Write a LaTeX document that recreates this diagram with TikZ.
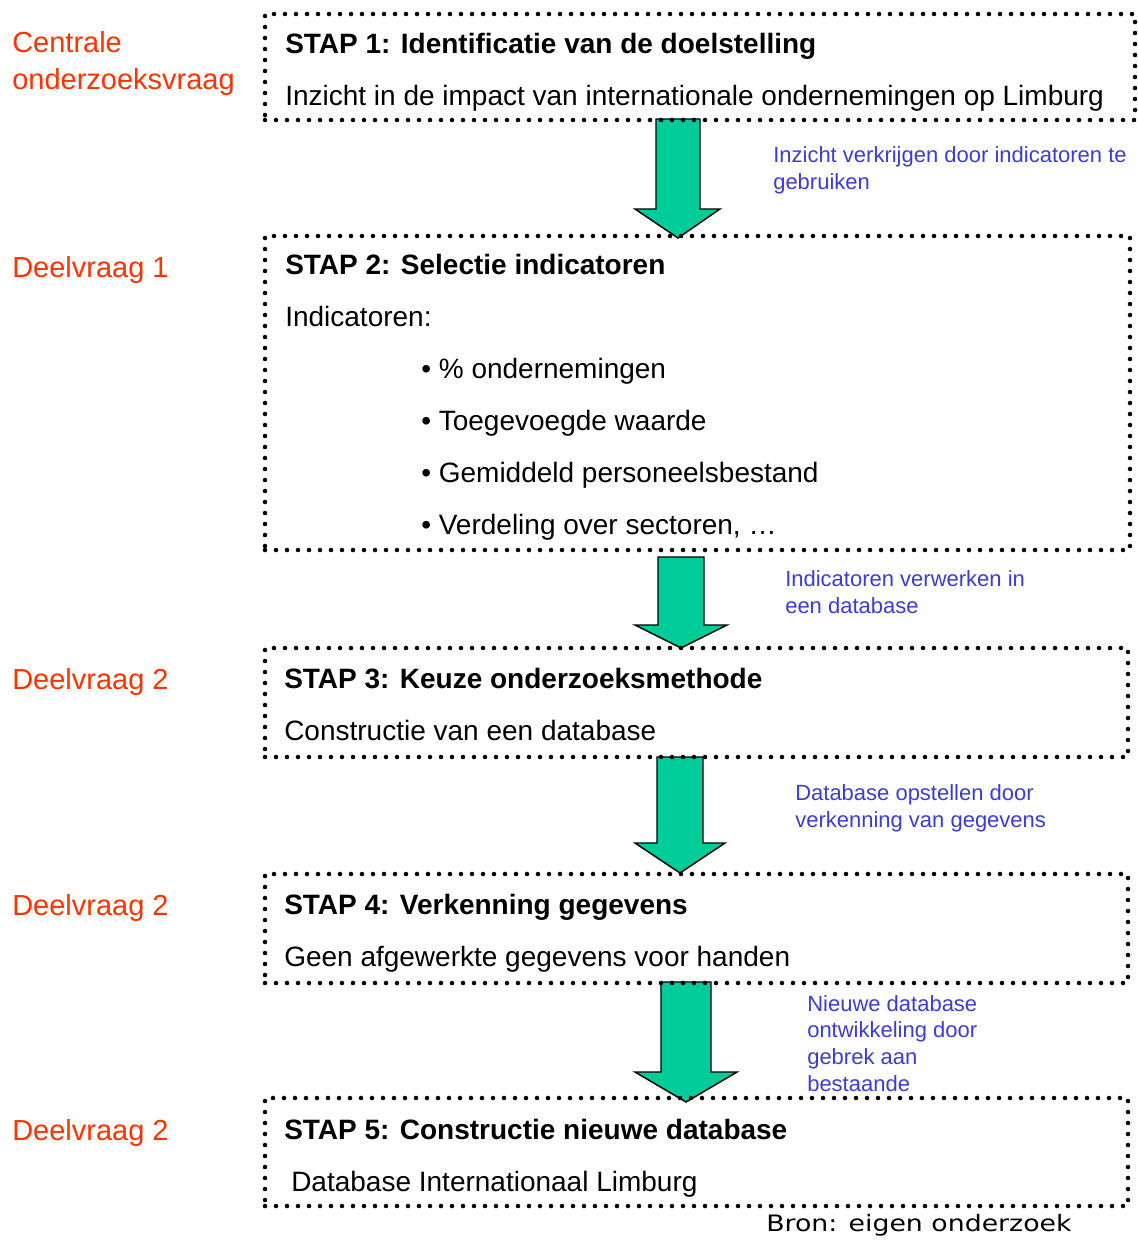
\documentclass[tikz,border=0pt]{standalone}
\usepackage{fontspec}
\setmainfont{Liberation Sans}
\newfontfamily\bronfont{DejaVu Sans}
\usetikzlibrary{fit}
\definecolor{redlab}{RGB}{255,51,0}
\definecolor{bluelab}{RGB}{60,60,210}
\definecolor{arrowgreen}{RGB}{0,204,153}
\tikzset{
  dotbox/.style={draw=black, line width=3.4pt, dash pattern=on 0pt off 8.25pt, line cap=round, inner sep=0pt},
  garrow/.style={fill=arrowgreen, draw=black, line width=1.1pt, line join=miter},
  qlabel/.style={anchor=base west, inner sep=0pt, text=redlab, font=\fontsize{21.75}{26}\selectfont},
  steptitle/.style={anchor=base west, inner sep=0pt, font=\fontsize{21}{25}\selectfont\bfseries},
  steptext/.style={anchor=base west, inner sep=0pt, font=\fontsize{21}{25}\selectfont},
  note/.style={anchor=base west, inner sep=0pt, text=bluelab, align=left, font=\fontsize{16.5}{20}\selectfont},
}
\begin{document}
\begin{tikzpicture}[x=0.75pt,y=-0.75pt]
\useasboundingbox (0,0) rectangle (1138,1240);

% block arrows
\draw[garrow] (656,119) -- (700,119) -- (700,209) -- (720,209) -- (678,238) -- (635,209) -- (656,209) -- cycle;
\draw[garrow] (658,557) -- (704,557) -- (704,625) -- (727,625) -- (681,648) -- (635,625) -- (658,625) -- cycle;
\draw[garrow] (657,757) -- (703,757) -- (703,843) -- (725,843) -- (680,873) -- (635,843) -- (657,843) -- cycle;
\draw[garrow] (661,982) -- (711,982) -- (711,1072) -- (737,1072) -- (686,1102) -- (635,1072) -- (661,1072) -- cycle;

% dotted boxes
\node[dotbox, fit={(265,14) (1135,120)}] (b1) {};
\node[dotbox, fit={(265,236) (1130,550)}] (b2) {};
\node[dotbox, fit={(265,648) (1128,757)}] (b3) {};
\node[dotbox, fit={(265,874) (1128,983)}] (b4) {};
\node[dotbox, fit={(265,1098) (1128,1206)}] (b5) {};

% left questions
\node[qlabel] (q0a) at (12,52) {Centrale};
\node[qlabel] (q0b) at (12,89) {onderzoeksvraag};
\node[qlabel] (q1) at (12,277) {Deelvraag 1};
\node[qlabel] (q2) at (12,689) {Deelvraag 2};
\node[qlabel] (q3) at (12,915) {Deelvraag 2};
\node[qlabel] (q4) at (12,1140) {Deelvraag 2};

% box texts
\node[steptitle] (t1) at (285,53) {STAP 1: Identificatie van de doelstelling};
\node[steptext] (s1) at (285,105) {Inzicht in de impact van internationale ondernemingen op Limburg};

\node[steptitle] (t2) at (285,274) {STAP 2: Selectie indicatoren};
\node[steptext] (s2) at (285,326) {Indicatoren:};
\node[steptext] (i1) at (421,378) {• \% ondernemingen};
\node[steptext] (i2) at (421,430) {• Toegevoegde waarde};
\node[steptext] (i3) at (421,482) {• Gemiddeld personeelsbestand};
\node[steptext] (i4) at (421,534) {• Verdeling over sectoren, …};

\node[steptitle] (t3) at (284,688) {STAP 3: Keuze onderzoeksmethode};
\node[steptext] (s3) at (284,740) {Constructie van een database};

\node[steptitle] (t4) at (284,914) {STAP 4: Verkenning gegevens};
\node[steptext] (s4) at (284,966) {Geen afgewerkte gegevens voor handen};

\node[steptitle] (t5) at (284,1139) {STAP 5: Constructie nieuwe database};
\node[steptext] (s5) at (291,1191) {Database Internationaal Limburg};

% arrow notes (anchor = baseline of last line)
\node[note] (n1) at (773,189) {Inzicht verkrijgen door indicatoren te\\gebruiken};
\node[note] (n2) at (785,613) {Indicatoren verwerken in\\een database};
\node[note] (n3) at (795,827) {Database opstellen door\\verkenning van gegevens};
\node[note] (n4) at (807,1091) {Nieuwe database\\ontwikkeling door\\gebrek aan\\bestaande};

% source
\node[anchor=base west, inner sep=0pt, font=\bronfont\fontsize{17}{20}\selectfont] (bron) at (766,1231) {\scalebox{1.18}[1]{Bron: eigen onderzoek}};
\end{tikzpicture}
\end{document}
